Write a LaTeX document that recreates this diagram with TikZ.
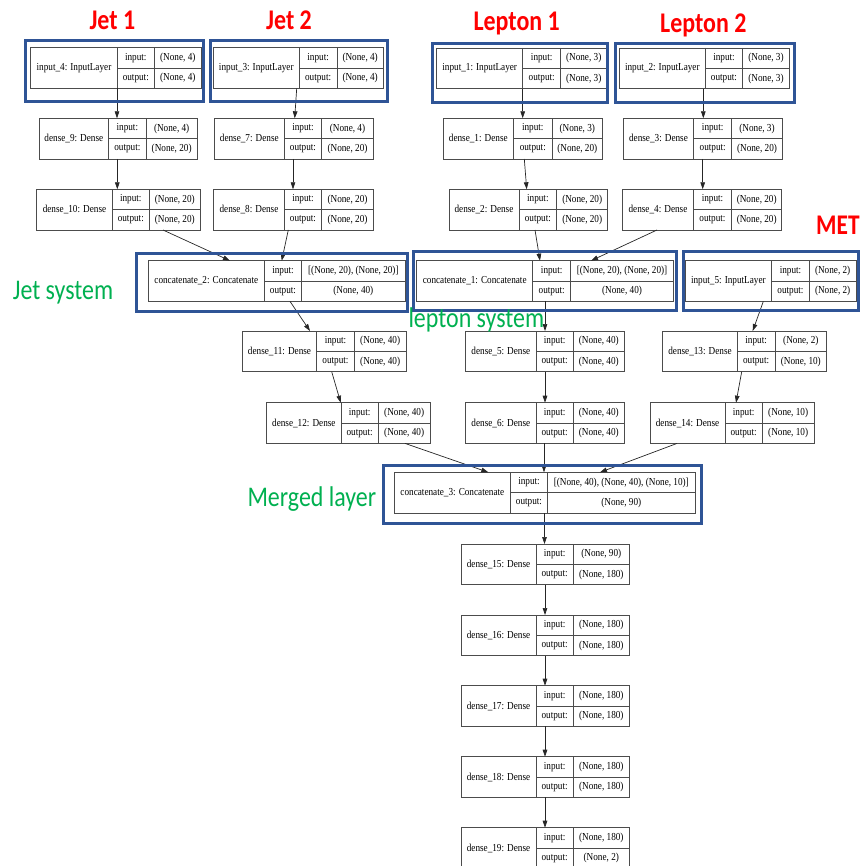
\documentclass[tikz,border=0pt]{standalone}
\usepackage{fontspec}
\setmainfont{Liberation Serif}
\newfontfamily\labelfont{Carlito}
\usetikzlibrary{arrows.meta}

\definecolor{framblue}{RGB}{47,84,150}
\definecolor{tagred}{RGB}{255,0,0}
\definecolor{taggreen}{RGB}{0,176,80}

\def\rowh{20.35}
% narrow the table lettering a little
\newcommand\kxs[1]{\scalebox{0.86}[1]{#1}}

% one Keras layer: name, left, top, first divider, second divider, right, title, input shape, output shape
\newcommand\klayer[9]{%
  \node[tblbox, minimum width={#6pt-#2pt}, anchor=north west] (#1) at (#2,#3) {};
  \draw[tblline] (#4,#3) -- (#4,#3+2*\rowh);
  \draw[tblline] (#5,#3) -- (#5,#3+2*\rowh);
  \draw[tblline] (#4,#3+\rowh) -- (#6,#3+\rowh);
  \node[tbltxt] at ({(#2+#4)/2},#3+\rowh) {\kxs{#7}};
  \node[tbltxt] at ({(#4+#5)/2},#3+0.5*\rowh) {\kxs{input:}};
  \node[tbltxt] at ({(#4+#5)/2},#3+1.5*\rowh) {\kxs{output:}};
  \node[tbltxt] at ({(#5+#6)/2},#3+0.5*\rowh) {\kxs{#8}};
  \node[tbltxt] at ({(#5+#6)/2},#3+1.5*\rowh) {\kxs{#9}};
}

\begin{document}
\begin{tikzpicture}[x=1pt, y=-1pt,
  tblbox/.style={draw=black!70, line width=0.8pt, inner sep=0pt, outer sep=0pt,
                 minimum height={2*\rowh pt}},
  tblline/.style={draw=black!70, line width=0.8pt},
  tbltxt/.style={inner sep=0pt, font=\fontsize{10.7}{11}\selectfont},
  arr/.style={draw=black!85, line width=0.7pt, -{Triangle[length=7pt, width=4.6pt]}},
  frame/.style={draw=framblue, line width=3pt},
  redtag/.style={inner sep=0pt, anchor=base west, text=tagred,
                 font=\labelfont\bfseries\fontsize{28.5}{30}\selectfont},
  greentag/.style={inner sep=0pt, anchor=base west, text=taggreen,
                 font=\labelfont\fontsize{28.5}{30}\selectfont}]
\useasboundingbox (0,0) rectangle (861,866);
\clip (0,0) rectangle (861,866);

% input layers
\klayer{in4}{30.7}{47.7}{117.3}{154.3}{201.3}{input\_4: InputLayer}{(None, 4)}{(None, 4)}
\klayer{in3}{213.3}{47.7}{299.3}{337}{383.3}{input\_3: InputLayer}{(None, 4)}{(None, 4)}
\klayer{in1}{436.7}{48}{522.7}{560.7}{606.7}{input\_1: InputLayer}{(None, 3)}{(None, 3)}
\klayer{in2}{619.3}{48}{705.3}{742.7}{789.3}{input\_2: InputLayer}{(None, 3)}{(None, 3)}

% first dense layers
\klayer{d9}{39}{118.3}{108.7}{146}{197.3}{dense\_9: Dense}{(None, 4)}{(None, 20)}
\klayer{d7}{214.3}{118.3}{284.3}{321.7}{373.3}{dense\_7: Dense}{(None, 4)}{(None, 20)}
\klayer{d1}{443.3}{118.3}{513.3}{552.3}{602.3}{dense\_1: Dense}{(None, 3)}{(None, 20)}
\klayer{d3}{623.3}{118.3}{693.7}{731.7}{782.3}{dense\_3: Dense}{(None, 3)}{(None, 20)}

% second dense layers
\klayer{d10}{36.7}{189.3}{112.3}{149.3}{200.3}{dense\_10: Dense}{(None, 20)}{(None, 20)}
\klayer{d8}{213.7}{189.3}{284.3}{321.7}{373.3}{dense\_8: Dense}{(None, 20)}{(None, 20)}
\klayer{d2}{449}{189.3}{519}{556.7}{607.7}{dense\_2: Dense}{(None, 20)}{(None, 20)}
\klayer{d4}{622.7}{189.3}{693.3}{731.7}{781.7}{dense\_4: Dense}{(None, 20)}{(None, 20)}

% subsystem concatenations and MET input
\klayer{c2}{148.3}{260.7}{264.3}{301.7}{405}{concatenate\_2: Concatenate}{[(None, 20), (None, 20)]}{(None, 40)}
\klayer{c1}{416.7}{260.7}{532.7}{570.7}{673.3}{concatenate\_1: Concatenate}{[(None, 20), (None, 20)]}{(None, 40)}
\klayer{in5}{685}{260.7}{771.7}{809.3}{856}{input\_5: InputLayer}{(None, 2)}{(None, 2)}

\klayer{d11}{242.3}{331}{316.7}{354.3}{406}{dense\_11: Dense}{(None, 40)}{(None, 40)}
\klayer{d5}{465.7}{331}{536}{573.3}{624.3}{dense\_5: Dense}{(None, 40)}{(None, 40)}
\klayer{d13}{662.7}{331}{737.3}{775}{826.7}{dense\_13: Dense}{(None, 2)}{(None, 10)}

\klayer{d12}{266.7}{402.7}{341}{378.3}{430}{dense\_12: Dense}{(None, 40)}{(None, 40)}
\klayer{d6}{465.7}{402.7}{536}{573.3}{624.3}{dense\_6: Dense}{(None, 40)}{(None, 40)}
\klayer{d14}{650}{402.7}{725}{762.3}{814}{dense\_14: Dense}{(None, 10)}{(None, 10)}

% merged trunk
\klayer{c3}{394}{472.3}{510.7}{547.3}{695.3}{concatenate\_3: Concatenate}{[(None, 40), (None, 40), (None, 10)]}{(None, 90)}
\klayer{d15}{461}{544}{536}{573.3}{629.3}{dense\_15: Dense}{(None, 90)}{(None, 180)}
\klayer{d16}{461}{615}{536}{573.3}{629.3}{dense\_16: Dense}{(None, 180)}{(None, 180)}
\klayer{d17}{461}{685.7}{536}{573.3}{629.3}{dense\_17: Dense}{(None, 180)}{(None, 180)}
\klayer{d18}{461}{756.7}{536}{573.3}{629.3}{dense\_18: Dense}{(None, 180)}{(None, 180)}
\klayer{d19}{461}{827.7}{536}{573.3}{629.3}{dense\_19: Dense}{(None, 180)}{(None, 2)}

% data flow
\draw[arr] ([xshift=86.3pt]in4.south west) -- ([xshift=78pt]d9.north west);
\draw[arr] ([xshift=83.4pt]in3.south west) -- ([xshift=80.4pt]d7.north west);
\draw[arr] ([xshift=86pt]in1.south west) -- ([xshift=79.4pt]d1.north west);
\draw[arr] ([xshift=84pt]in2.south west) -- ([xshift=80pt]d3.north west);
\draw[arr] ([xshift=78.3pt]d9.south west) -- ([xshift=80.6pt]d10.north west);
\draw[arr] ([xshift=78.7pt]d7.south west) -- ([xshift=79.3pt]d8.north west);
\draw[arr] ([xshift=81pt]d1.south west) -- ([xshift=77.7pt]d2.north west);
\draw[arr] ([xshift=79.4pt]d3.south west) -- ([xshift=80pt]d4.north west);
\draw[arr] ([xshift=126.3pt]d10.south west) -- ([xshift=81.7pt]c2.north west);
\draw[arr] ([xshift=74.6pt]d8.south west) -- ([xshift=133.4pt]c2.north west);
\draw[arr] ([xshift=86pt]d2.south west) -- ([xshift=123.3pt]c1.north west);
\draw[arr] ([xshift=34.3pt]d4.south west) -- ([xshift=174.3pt]c1.north west);
\draw[arr] ([xshift=141.7pt]c2.south west) -- ([xshift=67.7pt]d11.north west);
\draw[arr] ([xshift=128.3pt]c1.south west) -- ([xshift=79.3pt]d5.north west);
\draw[arr] ([xshift=78.3pt]in5.south west) -- ([xshift=90pt]d13.north west);
\draw[arr] ([xshift=89.4pt]d11.south west) -- ([xshift=74pt]d12.north west);
\draw[arr] ([xshift=79.3pt]d5.south west) -- ([xshift=79.3pt]d6.north west);
\draw[arr] ([xshift=79pt]d13.south west) -- ([xshift=86pt]d14.north west);
\draw[arr] ([xshift=138.3pt]d12.south west) -- ([xshift=94.3pt]c3.north west);
\draw[arr] ([xshift=78.3pt]d6.south west) -- ([xshift=150pt]c3.north west);
\draw[arr] ([xshift=27pt]d14.south west) -- ([xshift=206pt]c3.north west);
\draw[arr] ([xshift=150.5pt]c3.south west) -- ([xshift=83.5pt]d15.north west);
\draw[arr] ([xshift=84pt]d15.south west) -- ([xshift=84pt]d16.north west);
\draw[arr] ([xshift=84pt]d16.south west) -- ([xshift=84pt]d17.north west);
\draw[arr] ([xshift=84pt]d17.south west) -- ([xshift=84pt]d18.north west);
\draw[arr] ([xshift=84pt]d18.south west) -- ([xshift=84pt]d19.north west);

% highlight frames
\draw[frame] (25.8,40.8) rectangle (203.5,101.2);
\draw[frame] (210.8,40.8) rectangle (387.8,101.2);
\draw[frame] (432.5,43.2) rectangle (607.5,102.5);
\draw[frame] (615.8,43.2) rectangle (794.2,102.5);
\draw[frame] (136.5,253.2) rectangle (407.8,311.2);
\draw[frame] (413.2,251.5) rectangle (676.8,310.2);
\draw[frame] (683.2,251.5) rectangle (858.5,310.2);
\draw[frame] (383.2,465.5) rectangle (701.8,523.5);

% annotations
\node[redtag] (tjet1) at (89.3,30) {\scalebox{0.84}[1]{Jet 1}};
\node[redtag] (tjet2) at (266,30) {\scalebox{0.84}[1]{Jet 2}};
\node[redtag] (tlep1) at (473.3,31) {\scalebox{0.84}[1]{Lepton 1}};
\node[redtag] (tlep2) at (660,32.3) {\scalebox{0.84}[1]{Lepton 2}};
\node[redtag] (tmet) at (816,235) {\scalebox{0.82}[1]{MET}};
\node[greentag] (tjets) at (12.7,299.3) {\scalebox{0.84}[1]{Jet system}};
\node[greentag] (tleps) at (408.3,327.3) {\scalebox{0.84}[1]{lepton system}};
\node[greentag] (tmerge) at (247.3,506) {\scalebox{0.84}[1]{Merged layer}};
\end{tikzpicture}
\end{document}
